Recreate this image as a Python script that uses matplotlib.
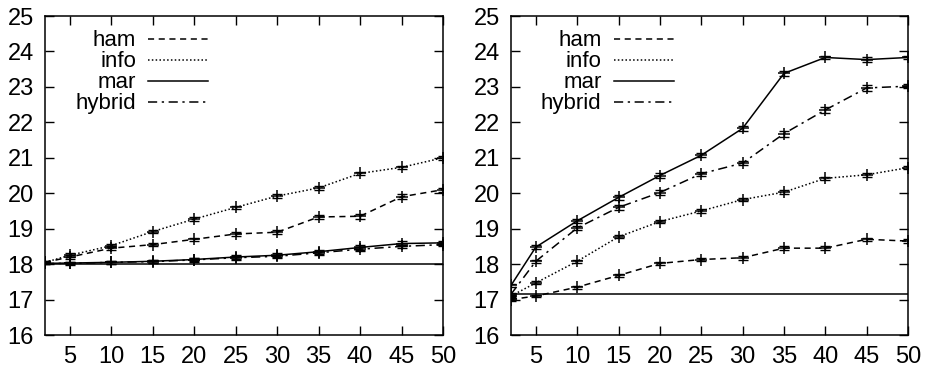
import matplotlib
matplotlib.use('Agg')
import matplotlib.pyplot as plt

# Font
plt.rcParams['font.family'] = ['Liberation Sans', 'DejaVu Sans']
plt.rcParams['font.size'] = 17

x = [2, 5, 10, 15, 20, 25, 30, 35, 40, 45, 50]
series_names = ['ham', 'info', 'mar', 'hybrid']

# left panel
left_ham = [18.05, 18.20, 18.45, 18.55, 18.70, 18.85, 18.90, 19.33, 19.35, 19.90, 20.10]
left_info = [18.05, 18.25, 18.52, 18.92, 19.27, 19.60, 19.92, 20.15, 20.56, 20.73, 21.00]
left_mar = [18.02, 18.03, 18.05, 18.08, 18.13, 18.20, 18.25, 18.35, 18.47, 18.58, 18.60]
left_hybrid = [18.02, 18.02, 18.05, 18.07, 18.12, 18.18, 18.22, 18.32, 18.42, 18.50, 18.55]
left_ham_err = [0.03, 0.05, 0.05, 0.05, 0.05, 0.06, 0.06, 0.06, 0.07, 0.07, 0.06]
left_info_err = [0.03, 0.05, 0.05, 0.05, 0.05, 0.05, 0.05, 0.05, 0.05, 0.05, 0.05]
left_mar_err = [0.03, 0.04, 0.04, 0.04, 0.05, 0.05, 0.05, 0.06, 0.06, 0.06, 0.06]
left_hybrid_err = [0.03, 0.04, 0.04, 0.04, 0.05, 0.05, 0.05, 0.05, 0.05, 0.05, 0.05]
left_baseline = 18.0

# right panel
right_ham = [17.00, 17.10, 17.35, 17.68, 18.02, 18.13, 18.18, 18.45, 18.45, 18.70, 18.65]
right_info = [17.10, 17.47, 18.08, 18.77, 19.20, 19.50, 19.82, 20.03, 20.42, 20.52, 20.72]
right_mar = [17.40, 18.48, 19.22, 19.88, 20.50, 21.07, 21.83, 23.38, 23.83, 23.77, 23.83]
right_hybrid = [17.15, 18.08, 19.02, 19.60, 20.02, 20.55, 20.85, 21.68, 22.35, 22.97, 23.02]
right_ham_err = [0.03, 0.04, 0.04, 0.04, 0.05, 0.05, 0.05, 0.05, 0.05, 0.05, 0.05]
right_info_err = [0.03, 0.04, 0.04, 0.04, 0.05, 0.05, 0.05, 0.05, 0.05, 0.05, 0.05]
right_mar_err = [0.04, 0.05, 0.06, 0.06, 0.06, 0.06, 0.08, 0.08, 0.05, 0.06, 0.05]
right_hybrid_err = [0.04, 0.05, 0.06, 0.06, 0.06, 0.06, 0.06, 0.08, 0.08, 0.08, 0.06]
right_baseline = 17.15

styles = {
    'ham': (0, (4, 3)),
    'info': (0, (1, 1.5)),
    'mar': '-',
    'hybrid': (0, (6, 3, 1.5, 3)),
}


def draw_panel(ax, values, errors, baseline):
    ax.axhline(baseline, color='black', lw=1.1)
    for name, y, err in zip(series_names, values, errors):
        ax.plot(x, y, color='black', lw=1.1, linestyle=styles[name], label=name)
        ax.errorbar(x, y, yerr=err, fmt='none', ecolor='black', elinewidth=1, capsize=3.5, capthick=1)
        ax.plot(x, y, '+', color='black', markersize=8, markeredgewidth=1.1)

    ax.set_xlim(2, 50)
    ax.set_ylim(16, 25)
    ax.set_xticks(range(5, 51, 5))
    ax.set_yticks(range(16, 26))
    ax.tick_params(direction='in', length=6.5, width=1, top=True, right=True, pad=8)
    for s in ax.spines.values():
        s.set_linewidth(1.1)

    # gnuplot-style key: labels right-aligned, line sample after the label
    ax.legend(loc='upper right', bbox_to_anchor=(0.41, 0.955), frameon=False, markerfirst=False,
              handlelength=2.7, handletextpad=0.55, labelspacing=0.0, borderpad=0,
              borderaxespad=0, fontsize=16)


fig = plt.figure(figsize=(9.26, 3.67), dpi=100)
ax1 = fig.add_axes([45 / 926, 32 / 367, 398 / 926, 319 / 367])
ax2 = fig.add_axes([511 / 926, 32 / 367, 397 / 926, 319 / 367])

draw_panel(ax1, [left_ham, left_info, left_mar, left_hybrid],
           [left_ham_err, left_info_err, left_mar_err, left_hybrid_err], left_baseline)
draw_panel(ax2, [right_ham, right_info, right_mar, right_hybrid],
           [right_ham_err, right_info_err, right_mar_err, right_hybrid_err], right_baseline)

fig.savefig('out.png', dpi=100)
